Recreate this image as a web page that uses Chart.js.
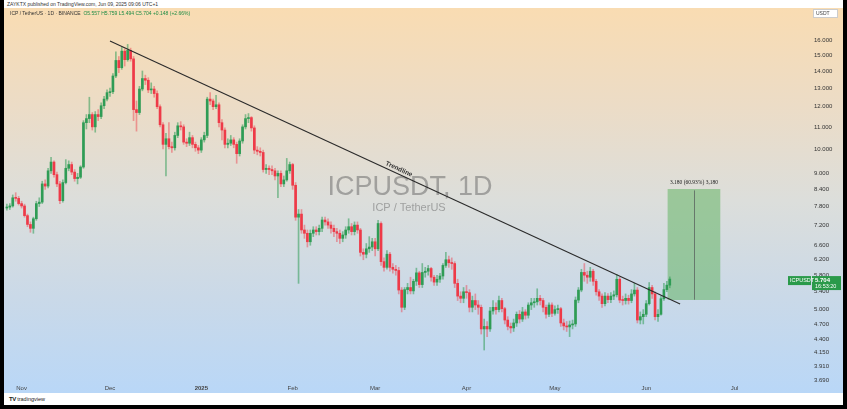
<!DOCTYPE html>
<html>
<head>
<meta charset="utf-8">
<script src="https://cdn.jsdelivr.net/npm/chart.js@4.4.1/dist/chart.umd.min.js"></script>
<style>
  html, body { margin: 0; padding: 0; background: #000; width: 847px; height: 409px; overflow: hidden; font-family: "Liberation Sans", Arial, sans-serif; }
  #panel { position: absolute; left: 4px; top: 0; width: 839px; height: 405px; background: #fff; }
  #pane { position: absolute; left: 0; top: 8px; width: 839px; height: 385px;
          background: linear-gradient(#f9dcb2 0%, #ecdcc6 25%, #dcdedb 50%, #cad9e8 75%, #b9d7f7 100%); }
  #head1 { position: absolute; left: 3px; top: 1px; font-size: 5px; color: #333; white-space: nowrap; }
  #head2 { position: absolute; left: 6px; top: 10px; font-size: 5px; color: #333; white-space: nowrap; z-index: 2; }
  #head2 .g { color: #1e8c45; }
  #logo { position: absolute; left: 5px; top: 396px; font-size: 5.5px; color: #222; white-space: nowrap; }
  #logo b { font-size: 6px; letter-spacing: -0.5px; }
  canvas { position: absolute; left: 0; top: 0; }
</style>
</head>
<body>
<div id="panel">
  <div id="head1">ZAYKTX published on TradingView.com, Jun 09, 2025 09:06 UTC+1</div>
  <div id="pane"><canvas id="c" width="839" height="385"></canvas></div>
  <div id="head2">ICP / TetherUS · 1D · BINANCE &nbsp;<span class="g">O5.557 H5.759 L5.494 C5.704 +0.148 (+2.66%)</span></div>
  <div id="logo"><b>TV</b> tradingview</div>
</div>
<script>
// daily candles, first one = Oct 27 2024 (day -5, day 0 = Nov 1 2024)
const firstDay = -5;
const firstOpen = 7.75;
const closes = [
  7.78, 7.82, 8.10, 8.08, 7.90, 7.82, 7.50, 7.22, 7.10, 7.40,
  7.90, 7.95, 8.60, 8.52, 9.10, 9.45, 8.95, 8.60, 8.00, 8.65,
  9.20, 9.35, 9.05, 8.80, 8.85, 9.25, 11.20, 11.40, 11.60, 11.00,
  11.60, 11.50, 12.05, 12.40, 12.75, 12.80, 13.70, 14.65, 14.20, 15.25,
  14.70, 15.30, 14.75, 11.85, 11.70, 12.95, 13.55, 13.45, 12.90, 12.95,
  12.70, 12.00, 11.10, 10.20, 10.45, 10.10, 10.05, 10.60, 11.05, 11.00,
  10.30, 10.25, 10.50, 10.20, 10.05, 9.95, 10.40, 10.60, 12.40, 12.30,
  12.00, 12.10, 11.20, 10.85, 10.20, 10.25, 10.40, 10.20, 9.80, 10.35,
  11.00, 11.40, 11.45, 10.95, 9.95, 9.90, 9.85, 9.15, 9.20, 9.15,
  9.10, 8.90, 9.00, 8.60, 8.75, 9.10, 9.35, 8.55, 7.45, 7.55,
  7.05, 6.95, 6.70, 6.95, 7.05, 7.00, 7.10, 7.36, 7.30, 7.20,
  7.10, 7.00, 6.95, 6.80, 6.90, 7.05, 7.15, 7.00, 7.20, 7.05,
  6.40, 6.35, 6.50, 6.55, 6.70, 6.50, 7.25, 6.15, 6.00, 6.35,
  6.00, 5.95, 5.92, 5.44, 5.05, 5.45, 5.50, 5.42, 5.65, 5.86,
  5.57, 5.87, 5.90, 5.97, 5.75, 5.63, 5.70, 5.78, 6.05, 6.20,
  6.12, 6.10, 5.60, 5.30, 5.25, 5.40, 5.38, 5.05, 5.20, 5.10,
  5.05, 4.60, 4.65, 4.60, 4.97, 5.05, 5.00, 5.20, 5.02, 4.78,
  4.65, 4.62, 4.72, 4.90, 4.80, 4.95, 4.88, 5.10, 5.15, 5.17,
  5.25, 5.20, 5.05, 4.90, 5.10, 4.92, 5.00, 5.02, 4.72, 4.66,
  4.64, 4.68, 4.70, 5.21, 5.44, 5.87, 5.80, 5.75, 5.90, 5.65,
  5.40, 5.30, 5.13, 5.30, 5.22, 5.30, 5.33, 5.70, 5.21, 5.20,
  5.25, 5.20, 5.35, 5.44, 4.78, 4.85, 4.90, 5.13, 5.50, 5.35,
  4.85, 4.90, 5.24, 5.45, 5.557, 5.704
];
const highs = [
  7.88, 7.90, 8.20, 8.28, 8.15, 7.98, 7.88, 7.55, 7.30, 7.45,
  7.98, 8.10, 8.70, 8.75, 9.20, 9.65, 9.50, 9.05, 8.70, 8.75,
  9.55, 9.50, 9.45, 9.15, 9.00, 9.30, 11.30, 11.60, 12.50, 11.70,
  11.75, 11.85, 12.20, 12.55, 12.90, 13.00, 13.85, 15.20, 14.90, 15.50,
  15.40, 15.70, 15.45, 14.90, 12.30, 13.10, 14.00, 13.75, 13.60, 13.30,
  13.10, 12.85, 12.10, 11.20, 10.70, 11.20, 10.30, 10.75, 11.20, 11.25,
  11.10, 10.45, 10.75, 10.60, 10.30, 10.15, 10.50, 10.75, 12.50, 12.75,
  12.40, 12.60, 12.20, 11.35, 10.95, 10.45, 10.60, 10.50, 10.30, 10.45,
  11.10, 11.60, 11.65, 11.50, 11.05, 10.10, 10.05, 9.95, 9.35, 9.30,
  9.30, 9.20, 9.10, 9.10, 8.90, 9.60, 9.45, 9.40, 8.65, 7.70,
  7.70, 7.20, 7.05, 7.05, 7.15, 7.15, 7.20, 7.45, 7.45, 7.40,
  7.30, 7.20, 7.10, 7.05, 7.00, 7.15, 7.40, 7.25, 7.30, 7.30,
  7.10, 6.50, 6.65, 6.85, 6.80, 6.80, 7.35, 7.30, 6.25, 6.45,
  6.40, 6.10, 6.05, 6.00, 5.50, 5.50, 5.60, 5.75, 5.70, 5.98,
  5.90, 6.10, 6.00, 6.05, 6.00, 5.80, 5.80, 5.85, 6.10, 6.40,
  6.30, 6.25, 6.15, 5.70, 5.40, 5.50, 5.55, 5.45, 5.30, 5.35,
  5.20, 5.10, 4.80, 4.75, 5.05, 5.20, 5.15, 5.30, 5.25, 5.05,
  4.85, 4.72, 4.80, 4.95, 4.98, 5.05, 5.00, 5.15, 5.25, 5.25,
  5.47, 5.32, 5.25, 5.10, 5.15, 5.15, 5.08, 5.10, 5.05, 4.80,
  4.75, 4.76, 4.78, 5.28, 5.50, 5.95, 6.10, 5.90, 6.00, 5.95,
  5.70, 5.45, 5.35, 5.38, 5.36, 5.38, 5.42, 5.82, 5.75, 5.30,
  5.35, 5.32, 5.45, 5.60, 5.50, 4.95, 5.00, 5.20, 5.62, 5.55,
  5.40, 5.00, 5.30, 5.60, 5.65, 5.759
];
const lows = [
  7.68, 7.70, 7.78, 7.98, 7.85, 7.75, 7.45, 7.15, 6.98, 6.95,
  7.35, 7.80, 7.90, 8.40, 8.45, 9.00, 8.85, 8.50, 7.90, 7.95,
  8.60, 9.10, 8.95, 8.70, 8.60, 8.80, 9.20, 10.90, 11.20, 10.85,
  10.75, 11.30, 11.40, 11.90, 12.30, 12.55, 12.70, 13.60, 13.90, 14.10,
  14.30, 14.60, 14.60, 11.30, 10.80, 11.60, 12.85, 13.20, 12.75, 12.70,
  12.50, 11.90, 11.00, 10.00, 8.90, 10.00, 9.85, 9.95, 10.50, 10.85,
  10.20, 10.10, 10.15, 10.05, 9.90, 9.80, 9.85, 10.30, 10.50, 12.10,
  11.85, 11.90, 11.00, 10.40, 10.05, 10.05, 10.15, 10.05, 9.40, 9.70,
  10.25, 10.90, 11.20, 10.80, 9.80, 9.75, 9.70, 9.05, 9.00, 8.95,
  8.95, 8.75, 8.10, 8.50, 8.50, 8.70, 9.00, 8.40, 7.35, 5.60,
  6.95, 6.80, 6.55, 6.60, 6.85, 6.90, 6.90, 7.00, 7.20, 7.10,
  6.95, 6.85, 6.70, 6.65, 6.70, 6.80, 6.95, 6.90, 6.90, 6.95,
  6.30, 6.20, 6.25, 6.40, 6.45, 6.30, 6.45, 6.05, 5.90, 5.95,
  5.90, 5.85, 5.80, 5.35, 4.95, 5.00, 5.35, 5.35, 5.35, 5.55,
  5.50, 5.50, 5.75, 5.80, 5.65, 5.55, 5.55, 5.62, 5.70, 6.00,
  6.00, 5.95, 5.50, 5.20, 5.15, 5.15, 5.25, 4.95, 4.95, 5.00,
  4.90, 4.50, 4.20, 4.45, 4.55, 4.90, 4.90, 4.95, 4.95, 4.70,
  4.58, 4.52, 4.55, 4.65, 4.72, 4.75, 4.80, 4.82, 5.00, 5.05,
  5.10, 5.10, 4.95, 4.82, 4.85, 4.85, 4.88, 4.92, 4.65, 4.58,
  4.55, 4.45, 4.60, 4.65, 5.15, 5.40, 5.65, 5.60, 5.65, 5.55,
  5.32, 5.20, 5.05, 5.08, 5.15, 5.15, 5.22, 5.28, 5.15, 5.10,
  5.12, 5.12, 5.15, 5.30, 4.72, 4.70, 4.70, 4.85, 5.10, 5.25,
  4.78, 4.75, 4.88, 5.20, 5.40, 5.494
];

// axis ticks
const priceTicks = [16, 15, 14, 13, 12, 11, 10, 9, 8.4, 7.8, 7.2, 6.6, 6.2, 5.8, 5.4, 5.0, 4.7, 4.4, 4.15, 3.91, 3.69];
const monthDays = [0, 30, 61, 92, 120, 151, 181, 212, 242];
const monthLabels = ['Nov', 'Dec', '2025', 'Feb', 'Mar', 'Apr', 'May', 'Jun', 'Jul'];

// trendline anchors [day, price]
const trendStart = [30, 15.93];
const trendEnd = [223.5, 5.12];

// long position box
const boxFrom = 219.4, boxTo = 237.0;
const boxLow = 5.219, boxHigh = 8.399;
const boxText = '3.180 (60.93%) 3,180';

const symbol = 'ICPUSDT';
const lastTime = '16:53:20';

const UP = '#2f9c55', DOWN = '#ee3a48';
const UP_W = 'rgba(47,156,85,0.55)', DOWN_W = 'rgba(238,58,72,0.45)';

const opens = [firstOpen].concat(closes.slice(0, -1));
const days = closes.map((c, i) => firstDay + i);
const isUp = closes.map((c, i) => c >= opens[i]);

// scales must not reserve room for their labels
function noPad(s) { s.paddingLeft = s.paddingRight = s.paddingTop = s.paddingBottom = 0; }

const overlay = {
  id: 'overlay',
  beforeDatasetsDraw(chart) {
    const { ctx } = chart;
    ctx.save();
    ctx.fillStyle = 'rgba(110,110,110,0.55)';
    ctx.textAlign = 'center';
    ctx.textBaseline = 'middle';
    ctx.font = '27px "Liberation Sans", Arial, sans-serif';
    ctx.fillText('ICPUSDT, 1D', 406, 180);
    ctx.font = '11px "Liberation Sans", Arial, sans-serif';
    ctx.fillText('ICP / TetherUS', 405, 200);
    ctx.restore();
  },
  afterDatasetsDraw(chart) {
    const { ctx } = chart;
    const xs = chart.scales.x, ys = chart.scales.y;
    ctx.save();
    // box centre line + label
    const bx = xs.getPixelForValue((boxFrom + boxTo) / 2);
    const bTop = ys.getPixelForValue(boxHigh), bBot = ys.getPixelForValue(boxLow);
    ctx.strokeStyle = 'rgba(90,100,95,0.8)';
    ctx.lineWidth = 1;
    ctx.beginPath();
    ctx.moveTo(Math.round(bx) + 0.5, bTop + 1);
    ctx.lineTo(Math.round(bx) + 0.5, bBot);
    ctx.stroke();
    ctx.fillStyle = '#222';
    ctx.font = '5.5px "Liberation Serif", serif';
    ctx.textAlign = 'center';
    ctx.textBaseline = 'bottom';
    ctx.fillText(boxText, bx, bTop - 4);

    // trendline label
    const x1 = xs.getPixelForValue(trendStart[0]), y1 = ys.getPixelForValue(trendStart[1]);
    const x2 = xs.getPixelForValue(trendEnd[0]), y2 = ys.getPixelForValue(trendEnd[1]);
    const ang = Math.atan2(y2 - y1, x2 - x1);
    const lx = 393, ly = y1 + (lx - x1) * (y2 - y1) / (x2 - x1);
    ctx.translate(lx, ly);
    ctx.rotate(ang);
    ctx.font = 'bold 6.5px "Liberation Sans", Arial, sans-serif';
    ctx.fillStyle = '#333';
    ctx.textBaseline = 'bottom';
    ctx.fillText('Trendline', 0, -1.5);
    ctx.setTransform(1, 0, 0, 1, 0, 0);

    // last price label
    const last = closes[closes.length - 1];
    const py = ys.getPixelForValue(last);
    ctx.fillStyle = '#2a9a4a';
    ctx.fillRect(784, py - 3, 23, 9);
    ctx.fillRect(808, py - 3, 29, 14);
    ctx.fillStyle = '#fff';
    ctx.textAlign = 'left';
    ctx.textBaseline = 'middle';
    ctx.font = '5.5px "Liberation Sans", Arial, sans-serif';
    ctx.fillText(symbol, 786, py + 1.5);
    ctx.font = 'bold 6px "Liberation Sans", Arial, sans-serif';
    ctx.fillText(last.toFixed(3), 811, py + 1);
    ctx.font = '5.5px "Liberation Sans", Arial, sans-serif';
    ctx.fillText(lastTime, 811, py + 7.5);

    // currency box
    ctx.fillStyle = '#fff';
    ctx.fillRect(809, 1, 25, 9);
    ctx.strokeStyle = '#ccc';
    ctx.strokeRect(809.5, 1.5, 24, 8);
    ctx.fillStyle = '#444';
    ctx.font = '5px "Liberation Sans", Arial, sans-serif';
    ctx.fillText('USDT', 812, 6);
    ctx.restore();
  }
};

new Chart(document.getElementById('c'), {
  type: 'bar',
  data: {
    datasets: [
      {
        type: 'line',
        data: [{ x: trendStart[0], y: trendStart[1] }, { x: trendEnd[0], y: trendEnd[1] }],
        borderColor: '#2a2a2a',
        borderWidth: 1.1,
        pointRadius: 0,
        order: 0
      },
      {
        data: days.map((d, i) => ({ x: d, y: [opens[i], closes[i]] })),
        backgroundColor: isUp.map(u => u ? UP : DOWN),
        barThickness: 2,
        minBarLength: 1,
        grouped: false,
        order: 1
      },
      {
        data: days.map((d, i) => ({ x: d, y: [lows[i], highs[i]] })),
        backgroundColor: isUp.map(u => u ? UP_W : DOWN_W),
        barThickness: 1,
        grouped: false,
        order: 2
      },
      {
        data: [{ x: (boxFrom + boxTo) / 2, y: [boxLow, boxHigh] }],
        backgroundColor: 'rgba(100,180,100,0.55)',
        barThickness: 52,
        grouped: false,
        order: 3
      }
    ]
  },
  options: {
    responsive: false,
    animation: false,
    devicePixelRatio: 1,
    layout: { padding: { left: 1, top: 0, right: 0, bottom: 0 }, autoPadding: false },
    plugins: { legend: { display: false }, tooltip: { enabled: false } },
    scales: {
      x: {
        type: 'linear',
        min: -5.63,
        max: 259.1,
        bounds: 'data',
        offset: false,
        grid: { display: false, drawTicks: false },
        border: { display: false },
        afterBuildTicks: s => { s.ticks = monthDays.map(v => ({ value: v })); },
        afterFit: s => { s.height = 10; noPad(s); },
        ticks: {
          autoSkip: false,
          maxRotation: 0,
          padding: 2,
          color: '#444',
          font: ctx => ({ size: 6, family: '"Liberation Sans", Arial, sans-serif', weight: (ctx.tick && ctx.tick.value === 61) ? 'bold' : 'normal' }),
          callback: v => monthLabels[monthDays.indexOf(v)]
        }
      },
      y: {
        type: 'logarithmic',
        position: 'right',
        min: 3.643,
        max: 18.37,
        bounds: 'data',
        grid: { display: false, drawTicks: false },
        border: { display: false },
        afterBuildTicks: s => { s.ticks = priceTicks.map(v => ({ value: v })); },
        afterFit: s => { s.width = 58; noPad(s); },
        ticks: {
          autoSkip: false,
          padding: 29,
          color: '#333',
          font: { size: 6, family: '"Liberation Sans", Arial, sans-serif' },
          callback: v => Number(v).toFixed(3)
        }
      }
    }
  },
  plugins: [overlay]
});
</script>
</body>
</html>
